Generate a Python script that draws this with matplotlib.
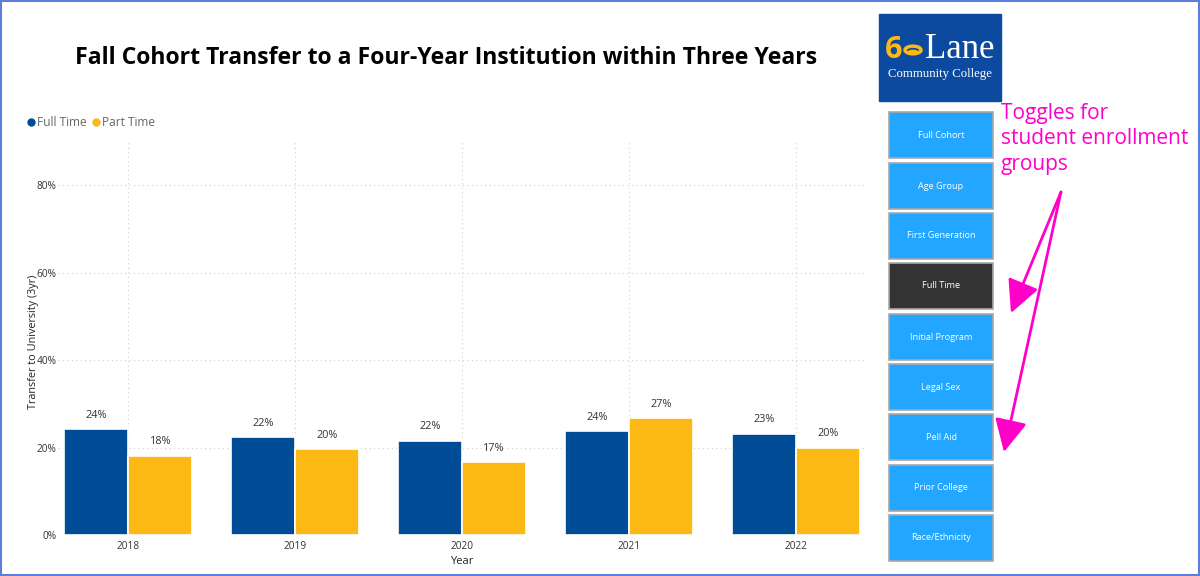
import matplotlib.pyplot as plt
import numpy as np
from matplotlib.lines import Line2D
from matplotlib.patches import Rectangle, Wedge, Circle, FancyArrowPatch
from matplotlib.ticker import PercentFormatter

# ---- data ----
years = ["2018", "2019", "2020", "2021", "2022"]
full_time = [0.242, 0.223, 0.216, 0.238, 0.232]
part_time = [0.181, 0.196, 0.167, 0.267, 0.200]
full_labels = ["24%", "22%", "22%", "24%", "23%"]
part_labels = ["18%", "20%", "17%", "27%", "20%"]
toggles = ["Full Cohort", "Age Group", "First Generation", "Full Time",
           "Initial Program", "Legal Sex", "Pell Aid", "Prior College",
           "Race/Ethnicity"]
active_toggle = "Full Time"

BLUE = "#004C97"
GOLD = "#FDB913"
BTN = "#22A6FF"
MAGENTA = "#FF00C8"
W, H = 1200, 576

plt.rcParams["font.family"] = ["Open Sans", "DejaVu Sans"]

fig = plt.figure(figsize=(12, 5.76), dpi=100)


def fx(px):
    return px / W


def fy(py):
    return 1 - py / H


# plot area in pixel terms: x 58..866, y 140..535
ax = fig.add_axes([fx(58), fy(535), fx(866) - fx(58), fy(140) - fy(535)])
x = np.arange(len(years))
bw = 0.385
ax.bar(x - bw / 2, full_time, bw, color=BLUE, edgecolor="white", linewidth=1.2, zorder=3)
ax.bar(x + bw / 2, part_time, bw, color=GOLD, edgecolor="white", linewidth=1.2, zorder=3)
for xi, v, lab in zip(x, full_time, full_labels):
    ax.annotate(lab, (xi - bw / 2, v), xytext=(0, 6), textcoords="offset points",
                ha="center", va="bottom", fontsize=7.8, color="#333333")
for xi, v, lab in zip(x, part_time, part_labels):
    ax.annotate(lab, (xi + bw / 2, v), xytext=(0, 6), textcoords="offset points",
                ha="center", va="bottom", fontsize=7.8, color="#333333")

ax.set_xlim(-0.42, 4.42)
ax.set_ylim(0, 0.903)
ax.set_yticks([0, 0.2, 0.4, 0.6, 0.8])
ax.yaxis.set_major_formatter(PercentFormatter(1.0, decimals=0))
ax.set_xticks(x)
ax.set_xticklabels(years)
ax.tick_params(length=0, labelsize=7.3, colors="#333333")
ax.tick_params(axis="y", pad=1)
ax.tick_params(axis="x", pad=4)
ax.grid(True, axis="both", linestyle=(0, (1, 3)), color="#cfcfcf", linewidth=0.8, zorder=0)
for s in ax.spines.values():
    s.set_visible(False)
ax.set_xlabel("Year", fontsize=8, color="#222222", labelpad=3)
ax.set_ylabel("Transfer to University (3yr)", fontsize=7.8, color="#222222")
ax.yaxis.set_label_coords((39 - 58) / (866 - 58), 0.49)

handles = [Line2D([], [], marker="o", linestyle="", color=BLUE, markersize=5),
           Line2D([], [], marker="o", linestyle="", color=GOLD, markersize=5)]
fig.legend(handles, ["Full Time", "Part Time"], loc="center left",
           bbox_to_anchor=(fx(14), fy(123)), ncol=2, frameon=False,
           handletextpad=0.0, columnspacing=0.3, handlelength=1.0,
           fontsize=8.6, labelcolor="#666666")

fig.text(fx(446), fy(58), "Fall Cohort Transfer to a Four-Year Institution within Three Years",
         ha="center", va="center", fontsize=16.6, fontweight="bold", color="black")

# ---- logo ----
fig.add_artist(Rectangle((fx(879), fy(101)), fx(122), fy(14) - fy(101),
                         transform=fig.transFigure, color="#0B4A9E", zorder=1))
fig.text(fx(894), fy(50), "6", ha="center", va="center", fontsize=22, fontweight="bold",
         color=GOLD, zorder=3)
fig.add_artist(Circle((fx(913), fy(50)), fx(8), transform=fig.transFigure,
                      fill=False, edgecolor=GOLD, linewidth=2.5, zorder=2))
fig.add_artist(Wedge((fx(913), fy(53)), fx(5.5), 0, 180, transform=fig.transFigure,
                     color=GOLD, zorder=2))
fig.text(fx(960), fy(49), "Lane", ha="center", va="center", fontsize=25,
         family="Liberation Serif", color="white", zorder=3)
fig.text(fx(940), fy(74), "Community College", ha="center", va="center", fontsize=9.2,
         family="Liberation Serif", color="white", zorder=3)

# ---- toggle buttons ----
tops = [112, 163, 213, 263, 314, 364, 414, 465, 515]
for top, name in zip(tops, toggles):
    face = "#333333" if name == active_toggle else BTN
    fig.add_artist(Rectangle((fx(889), fy(top + 46)), fx(104), fy(top) - fy(top + 46),
                             transform=fig.transFigure, facecolor=face,
                             edgecolor="#a8a8a8", linewidth=1.2, zorder=1))
    fig.text(fx(941), fy(top + 23), name, ha="center", va="center", fontsize=6.6,
             color="white", zorder=3)

# ---- annotation ----
fig.text(fx(1001), fy(103), "Toggles for\nstudent enrollment\ngroups", ha="left", va="top",
         fontsize=15, color=MAGENTA, linespacing=1.28)
for tip in [(1011, 313), (1004, 452)]:
    fig.add_artist(FancyArrowPatch((fx(1061), fy(192)), (fx(tip[0]), fy(tip[1])),
                                   transform=fig.transFigure,
                                   arrowstyle="-|>,head_length=1.0,head_width=0.5",
                                   mutation_scale=20, shrinkA=0, shrinkB=0,
                                   color=MAGENTA, linewidth=2))

# ---- outer border ----
fig.add_artist(Rectangle((0.0008, 0.0015), 0.9985, 0.997, transform=fig.transFigure,
                         fill=False, edgecolor="#5B7FDB", linewidth=1.5))

fig.savefig("out.png", dpi=100)
